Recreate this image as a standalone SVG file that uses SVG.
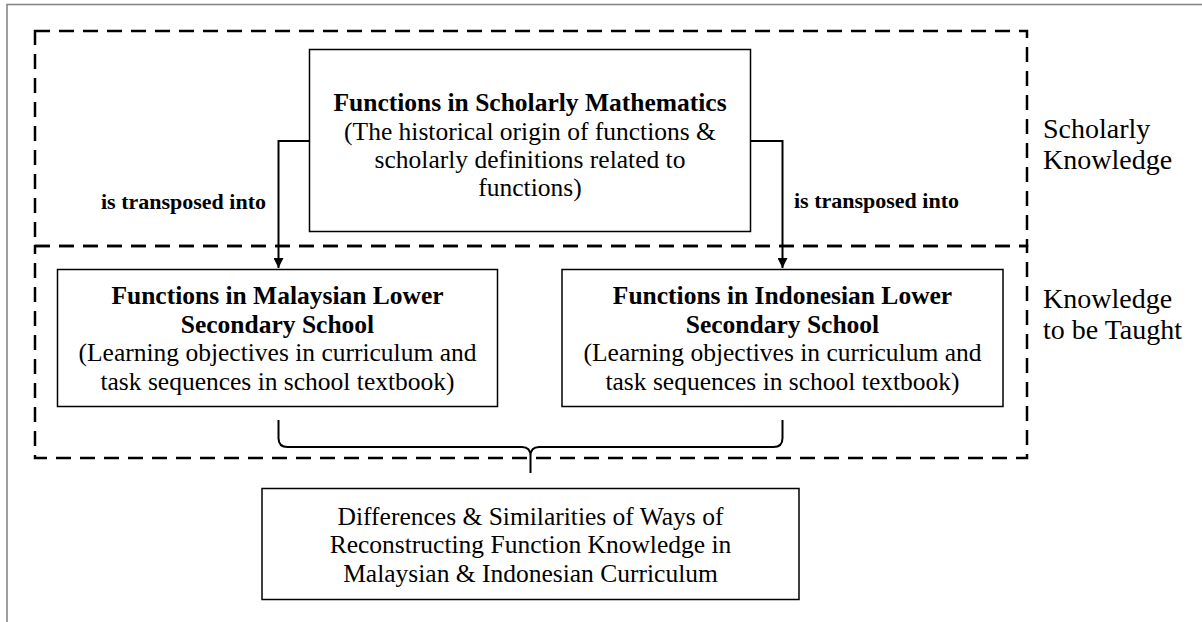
<svg xmlns="http://www.w3.org/2000/svg" width="1202" height="622" viewBox="0 0 1202 622">
<defs>
<style>
.frame{fill:none;stroke:#808080;stroke-width:1.5}
.dash{fill:none;stroke:#000;stroke-width:2.5;stroke-dasharray:15 9}
.box{fill:#fff;stroke:#000;stroke-width:1.5}
.conn{fill:none;stroke:#000;stroke-width:2}
.t{font-family:"Liberation Serif","Times New Roman",serif;font-size:25.5px;fill:#000;text-anchor:middle}
.b{font-weight:bold}
.lbl{font-family:"Liberation Serif","Times New Roman",serif;font-size:22px;font-weight:bold;fill:#000}
.side{font-family:"Liberation Serif","Times New Roman",serif;font-size:28px;fill:#000}
</style>
<marker id="arr" viewBox="0 0 10 10" refX="10" refY="5" markerWidth="5" markerHeight="5" orient="auto" markerUnits="strokeWidth">
<path d="M0,0 L10,5 L0,10 z" fill="#000"/>
</marker>
</defs>
<rect x="0" y="0" width="1202" height="622" fill="#fff"/>
<rect class="frame" x="7" y="4.5" width="1300" height="700"/>
<g id="regions">
<rect class="dash" x="35" y="31" width="992" height="215"/>
<rect class="dash" x="35" y="246" width="992" height="212"/>
<text class="side" x="1043" y="138">Scholarly</text>
<text class="side" x="1043" y="169">Knowledge</text>
<text class="side" x="1043" y="308">Knowledge</text>
<text class="side" x="1043" y="339">to be Taught</text>
</g>
<g id="connectors">
<path class="conn" d="M310,141 L278.5,141 L278.5,268" marker-end="url(#arr)"/>
<path class="conn" d="M751,141 L782.5,141 L782.5,268" marker-end="url(#arr)"/>
<path class="conn" d="M278.5,420 L278.5,438 Q278.5,447 287.5,447 L522,447 Q530.5,447 530.5,456 L530.5,473 M530.5,456 Q530.5,447 539,447 L773.5,447 Q782.5,447 782.5,438 L782.5,420"/>
<text class="lbl" x="101" y="209">is transposed into</text>
<text class="lbl" x="794" y="208">is transposed into</text>
</g>
<g id="scholarly">
<rect class="box" x="309.5" y="49.5" width="441" height="182"/>
<text class="t b" x="530" y="111">Functions in Scholarly Mathematics</text>
<text class="t" x="530" y="140">(The historical origin of functions &amp;</text>
<text class="t" x="530" y="168">scholarly definitions related to</text>
<text class="t" x="530" y="196">functions)</text>
</g>
<g id="malaysian">
<rect class="box" x="57.5" y="269.5" width="440" height="137"/>
<text class="t b" x="277.5" y="304">Functions in Malaysian Lower</text>
<text class="t b" x="277.5" y="333">Secondary School</text>
<text class="t" x="277.5" y="361">(Learning objectives in curriculum and</text>
<text class="t" x="277.5" y="390">task sequences in school textbook)</text>
</g>
<g id="indonesian">
<rect class="box" x="562" y="269.5" width="441" height="137"/>
<text class="t b" x="782.5" y="304">Functions in Indonesian Lower</text>
<text class="t b" x="782.5" y="333">Secondary School</text>
<text class="t" x="782.5" y="361">(Learning objectives in curriculum and</text>
<text class="t" x="782.5" y="390">task sequences in school textbook)</text>
</g>
<g id="comparison">
<rect class="box" x="262" y="488.5" width="537" height="111"/>
<text class="t" x="530.5" y="525">Differences &amp; Similarities of Ways of</text>
<text class="t" x="530.5" y="553">Reconstructing Function Knowledge in</text>
<text class="t" x="530.5" y="582">Malaysian &amp; Indonesian Curriculum</text>
</g>
</svg>
